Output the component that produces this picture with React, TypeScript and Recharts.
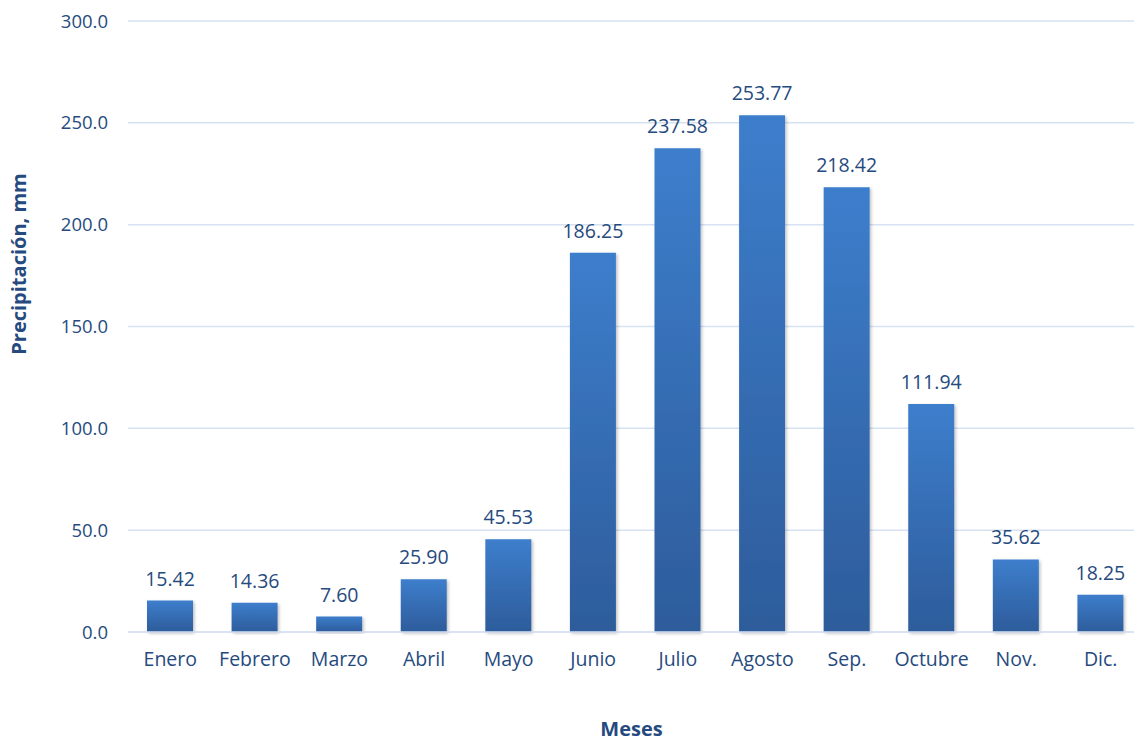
import React from 'react';
import { BarChart, Bar, XAxis, YAxis, CartesianGrid, LabelList, Label } from 'recharts';

const months = ['Enero', 'Febrero', 'Marzo', 'Abril', 'Mayo', 'Junio', 'Julio', 'Agosto', 'Sep.', 'Octubre', 'Nov.', 'Dic.'];
const precip = [15.42, 14.36, 7.6, 25.9, 45.53, 186.25, 237.58, 253.77, 218.42, 111.94, 35.62, 18.25];
const yTicks = [0, 50, 100, 150, 200, 250, 300];

const data = months.map((m, i) => ({ mes: m, value: precip[i] }));

const TEXT = '#264A7E';
const FONT = '"Open Sans", sans-serif';

const YTitle = (props: any) => {
  const x = 18;
  const y = 264;
  return (
    <text x={x} y={y} transform={`rotate(-90, ${x}, ${y})`} textAnchor="middle" dominantBaseline="central"
      fill={TEXT} fontFamily={FONT} fontWeight={700} fontSize={20}>
      Precipitación, mm
    </text>
  );
};

export default function App() {
  return (
    <div style={{ position: 'absolute', left: 0, top: 0, width: 1134, height: 741, overflow: 'hidden', background: '#fff' }}>
      <BarChart width={1143} height={741} data={data} margin={{ top: 21, right: 0, bottom: 0, left: 0 }}>
        <defs>
          <linearGradient id="barGrad" x1="0" y1="0" x2="0" y2="1">
            <stop offset="0%" stopColor="#3D7ECC" />
            <stop offset="100%" stopColor="#2D5C9B" />
          </linearGradient>
          <filter id="shadow" x="-20%" y="-10%" width="140%" height="120%">
            <feDropShadow dx="1.5" dy="1.5" stdDeviation="1.5" floodColor="#000" floodOpacity="0.25" />
          </filter>
        </defs>
        <CartesianGrid vertical={false} stroke="#D6E2F2" strokeWidth={1.5} />
        <XAxis dataKey="mes" height={109} axisLine={{ stroke: '#D6E2F2', strokeWidth: 1.5 }} tickLine={false}
          tick={{ fill: TEXT, fontFamily: FONT, fontSize: 19.5 }} tickMargin={14} interval={0}>
          <Label value="Meses" position="insideBottom" offset={5} dx={-4}
            style={{ fill: TEXT, fontFamily: FONT, fontWeight: 700, fontSize: 20 }} />
        </XAxis>
        <YAxis width={128} domain={[0, 300]} ticks={yTicks} axisLine={false} tickLine={false} tickSize={0}
          tickMargin={20} tickFormatter={(v: number) => v.toFixed(1)}
          tick={{ fill: TEXT, fontFamily: FONT, fontSize: 18.5 }}
          label={<YTitle />} />
        <Bar dataKey="value" fill="url(#barGrad)" barSize={46} isAnimationActive={false} style={{ filter: 'url(#shadow)' }}>
          <LabelList dataKey="value" position="top" offset={15} formatter={(v: number) => v.toFixed(2)}
            style={{ fill: TEXT, fontFamily: FONT, fontSize: 19.5, filter: 'none' }} />
        </Bar>
      </BarChart>
    </div>
  );
}
